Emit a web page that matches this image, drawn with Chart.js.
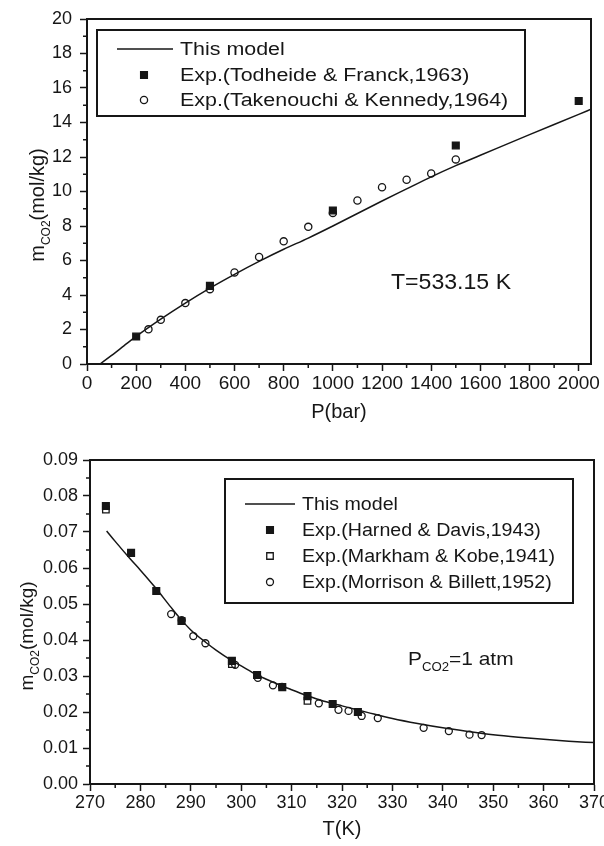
<!DOCTYPE html>
<html>
<head>
  <title>CO2 solubility in water</title>
  <script src="https://cdn.jsdelivr.net/npm/chart.js"></script>
  <style>
    body { margin: 0; background: #fff; overflow: hidden; width: 604px; height: 846px; position: relative; }
    canvas { position: absolute; left: 0; }
    #topChart { top: 0; }
    #bottomChart { top: 432px; }
  </style>
</head>
<body>
  <canvas id="topChart" width="620" height="432"></canvas>
  <canvas id="bottomChart" width="620" height="414"></canvas>

  <script>
    // ---- top panel: T = 533.15 K, m(CO2) against P ----
    const modelP = [53, 100, 150, 200, 300, 400, 500, 600, 700, 800, 900, 1000, 1200, 1300, 1400, 1500, 1600, 1800, 2000, 2050];
    const modelM = [0, 0.5, 1.05, 1.6, 2.6, 3.53, 4.4, 5.2, 5.95, 6.65, 7.3, 8.0, 9.45, 10.15, 10.85, 11.5, 12.1, 13.3, 14.47, 14.77];
    const todheideP = [200, 500, 1000, 1500, 2000];
    const todheideM = [1.59, 4.53, 8.9, 12.67, 15.25];
    const takenouchiP = [250, 300, 400, 500, 600, 700, 800, 900, 1000, 1100, 1200, 1300, 1400, 1500];
    const takenouchiM = [2.01, 2.56, 3.53, 4.34, 5.31, 6.2, 7.11, 7.95, 8.76, 9.48, 10.25, 10.68, 11.05, 11.86];
    const pTicks = [0, 200, 400, 600, 800, 1000, 1200, 1400, 1600, 1800, 2000];
    const mTicks = [0, 2, 4, 6, 8, 10, 12, 14, 16, 18, 20];

    // ---- bottom panel: P(CO2) = 1 atm, m(CO2) against T ----
    const modelT = [273.3, 275, 278, 280, 283, 286, 288, 290, 293, 295, 298, 300, 303, 305, 308, 310, 313, 315, 318, 320, 323, 325, 330, 335, 340, 345, 350, 355, 360, 365, 370];
    const modelC = [0.0703, 0.0674, 0.0625, 0.0594, 0.0545, 0.0492, 0.0458, 0.0428, 0.0393, 0.0372, 0.0344, 0.0328, 0.0304, 0.0291, 0.0273, 0.0262, 0.0246, 0.0236, 0.0224, 0.0217, 0.0206, 0.0199, 0.0182, 0.0168, 0.0156, 0.0146, 0.0137, 0.0130, 0.0124, 0.0119, 0.0115];
    const harnedT = [273.15, 278.15, 283.15, 288.15, 298.15, 303.15, 308.15, 313.15, 318.15, 323.15];
    const harnedM = [0.0772, 0.0642, 0.0536, 0.0453, 0.0342, 0.0303, 0.0269, 0.0244, 0.0222, 0.0200];
    const markhamT = [273.15, 298.15, 313.15];
    const markhamM = [0.0762, 0.0333, 0.0231];
    const morrisonT = [286.1, 288.2, 290.5, 292.9, 298.8, 303.3, 306.3, 308.1, 315.4, 319.3, 321.3, 323.9, 327.1, 336.2, 341.2, 345.3, 347.7];
    const morrisonM = [0.0472, 0.0455, 0.0411, 0.0391, 0.0331, 0.0295, 0.0274, 0.0270, 0.0224, 0.0206, 0.0203, 0.0189, 0.0183, 0.0156, 0.0147, 0.0137, 0.0136];
    const tTicks = [270, 280, 290, 300, 310, 320, 330, 340, 350, 360, 370];
    const cTicks = [0, 0.01, 0.02, 0.03, 0.04, 0.05, 0.06, 0.07, 0.08, 0.09];

    const ink = '#161616';
    const family = "'Liberation Sans', Arial, sans-serif";
    Chart.defaults.font.family = family;
    Chart.defaults.color = ink;

    const pts = (xs, ys) => xs.map((x, i) => ({ x, y: ys[i] }));

    // minor ticks halfway between the major ones
    function halves(ticks) {
      const out = [];
      for (let i = 0; i < ticks.length - 1; i++) out.push((ticks[i] + ticks[i + 1]) / 2);
      return out;
    }

    // text with optional subscript parts, y is the middle of the capitals
    function drawText(ctx, parts, x, y, o) {
      ctx.save();
      ctx.translate(x, y);
      if (o.rotate) ctx.rotate(o.rotate);
      ctx.scale(o.sx || 1, 1);
      ctx.fillStyle = ink;
      ctx.textBaseline = 'alphabetic';
      ctx.textAlign = 'left';
      let total = 0;
      parts.forEach(([t, sub]) => {
        ctx.font = `${sub ? o.sub : o.size}px ${family}`;
        total += ctx.measureText(t).width;
      });
      let cx = o.align === 'left' ? 0 : -total / 2;
      const base = o.size * 0.36;
      parts.forEach(([t, sub]) => {
        ctx.font = `${sub ? o.sub : o.size}px ${family}`;
        ctx.fillText(t, cx, base + (sub ? o.size * 0.3 : 0));
        cx += ctx.measureText(t).width;
      });
      ctx.restore();
    }

    // box, minor ticks and free text
    const framePlugin = {
      id: 'frame',
      afterDraw(chart, args, opts) {
        const ctx = chart.ctx;
        const a = chart.chartArea;
        const sx = chart.scales.x, sy = chart.scales.y;
        ctx.save();
        ctx.strokeStyle = ink;
        ctx.lineWidth = 2;
        ctx.strokeRect(a.left, a.top, a.right - a.left, a.bottom - a.top);
        ctx.lineWidth = 1.5;
        ctx.beginPath();
        opts.minorX.forEach(v => {
          const px = sx.getPixelForValue(v);
          ctx.moveTo(px, a.bottom);
          ctx.lineTo(px, a.bottom + 4);
        });
        opts.minorY.forEach(v => {
          const py = sy.getPixelForValue(v);
          ctx.moveTo(a.left - 4, py);
          ctx.lineTo(a.left, py);
        });
        ctx.stroke();
        ctx.restore();
        opts.texts.forEach(t => drawText(ctx, t.parts, t.x, t.y, t));
      }
    };

    // legend drawn inside the plot, from the datasets
    const boxLegend = {
      id: 'boxLegend',
      afterDraw(chart, args, opts) {
        const ctx = chart.ctx;
        const [x0, y0, x1, y1] = opts.box;
        ctx.save();
        ctx.fillStyle = '#fff';
        ctx.fillRect(x0, y0, x1 - x0, y1 - y0);
        ctx.strokeStyle = ink;
        ctx.lineWidth = 2;
        ctx.strokeRect(x0, y0, x1 - x0, y1 - y0);
        chart.data.datasets.forEach((ds, i) => {
          const y = opts.rows[i];
          if (ds.showLine) {
            ctx.lineWidth = ds.borderWidth;
            ctx.strokeStyle = ds.borderColor;
            ctx.beginPath();
            ctx.moveTo(opts.lineFrom, y);
            ctx.lineTo(opts.lineTo, y);
            ctx.stroke();
          } else {
            ctx.fillStyle = ds.pointBackgroundColor;
            ctx.strokeStyle = ds.pointBorderColor;
            ctx.lineWidth = ds.pointBorderWidth;
            Chart.helpers.drawPoint(ctx, {
              pointStyle: ds.pointStyle, radius: ds.pointRadius,
              borderWidth: ds.pointBorderWidth, rotation: 0
            }, opts.markerX, y);
          }
          drawText(ctx, [[ds.label, 0]], opts.textX, y, { size: opts.size, sx: opts.sx, align: 'left' });
        });
        ctx.restore();
      }
    };

    function axis(cfg) {
      return {
        type: 'linear',
        min: cfg.min,
        max: cfg.max,
        afterBuildTicks: s => { s.ticks = cfg.ticks.map(value => ({ value })); },
        afterFit: s => { if (cfg.width) s.width = cfg.width; if (cfg.height) s.height = cfg.height; },
        grid: { drawOnChartArea: false, tickLength: 7, tickWidth: 1.5, tickColor: ink },
        border: { display: true, width: 2, color: ink },
        ticks: {
          padding: cfg.pad, autoSkip: false, maxRotation: 0, color: ink,
          font: { size: cfg.font }, callback: cfg.fmt || (v => String(v))
        },
        title: cfg.title ? {
          display: true, text: cfg.title, color: ink,
          font: { size: 20 }, padding: { top: 0, bottom: cfg.titlePad }
        } : { display: false }
      };
    }

    const line = (label, xs, ys) => ({
      label, data: pts(xs, ys), showLine: true, borderColor: ink, borderWidth: 1.5,
      pointRadius: 0, tension: 0.4, cubicInterpolationMode: 'monotone', order: 3
    });
    const marks = (label, xs, ys, style, filled, r) => ({
      label, data: pts(xs, ys), showLine: false, pointStyle: style, pointRadius: r,
      pointBorderWidth: 1.3, pointBorderColor: ink,
      pointBackgroundColor: filled ? ink : 'rgba(0,0,0,0)', order: filled ? 1 : 2
    });

    new Chart(document.getElementById('topChart'), {
      type: 'scatter',
      data: {
        datasets: [
          line('This model', modelP, modelM),
          marks('Exp.(Todheide & Franck,1963)', todheideP, todheideM, 'rect', true, 4.8),
          marks('Exp.(Takenouchi & Kennedy,1964)', takenouchiP, takenouchiM, 'circle', false, 3.6)
        ]
      },
      options: {
        responsive: false,
        animation: false,
        layout: { padding: { left: 0, right: 29, top: 19, bottom: 0 } },
        scales: {
          x: axis({ min: 0, max: 2050, ticks: pTicks, height: 68, pad: 1, font: 19, title: 'P(bar)', titlePad: 8 }),
          y: axis({ min: 0, max: 20, ticks: mTicks, width: 87, pad: 8, font: 18 })
        },
        plugins: {
          legend: { display: false },
          tooltip: { enabled: false },
          frame: {
            minorX: halves(pTicks), minorY: halves(mTicks),
            texts: [
              { parts: [['T=533.15 K', 0]], x: 451, y: 281, size: 22, sx: 1.05 },
              { parts: [['m', 0], ['CO2', 1], ['(mol/kg)', 0]], x: 37, y: 205, size: 20, sub: 12, rotate: -Math.PI / 2 }
            ]
          },
          boxLegend: {
            box: [97, 30, 525, 116], rows: [49, 75, 100],
            lineFrom: 117, lineTo: 173, markerX: 144, textX: 180, size: 18, sx: 1.19
          }
        }
      },
      plugins: [framePlugin, boxLegend]
    });

    new Chart(document.getElementById('bottomChart'), {
      type: 'scatter',
      data: {
        datasets: [
          line('This model', modelT, modelC),
          marks('Exp.(Harned & Davis,1943)', harnedT, harnedM, 'rect', true, 4.8),
          marks('Exp.(Markham & Kobe,1941)', markhamT, markhamM, 'rect', false, 4.6),
          marks('Exp.(Morrison & Billett,1952)', morrisonT, morrisonM, 'circle', false, 3.5)
        ]
      },
      options: {
        responsive: false,
        animation: false,
        layout: { padding: { left: 0, right: 26, top: 28, bottom: 0 } },
        scales: {
          x: axis({ min: 270, max: 370, ticks: tTicks, height: 62, pad: 1, font: 18, title: 'T(K)', titlePad: 5 }),
          y: axis({ min: 0, max: 0.09, ticks: cTicks, width: 90, pad: 5, font: 18, fmt: v => v.toFixed(2) })
        },
        plugins: {
          legend: { display: false },
          tooltip: { enabled: false },
          frame: {
            minorX: halves(tTicks), minorY: halves(cTicks),
            texts: [
              { parts: [['P', 0], ['CO2', 1], ['=1 atm', 0]], x: 408, y: 226, size: 19, sub: 12, sx: 1.1, align: 'left' },
              { parts: [['m', 0], ['CO2', 1], ['(mol/kg)', 0]], x: 26, y: 204, size: 19, sub: 12, rotate: -Math.PI / 2 }
            ]
          },
          boxLegend: {
            box: [225, 47, 573, 171], rows: [72, 98, 124, 150],
            lineFrom: 245, lineTo: 295, markerX: 270, textX: 302, size: 18, sx: 1.09
          }
        }
      },
      plugins: [framePlugin, boxLegend]
    });
  </script>
</body>
</html>
